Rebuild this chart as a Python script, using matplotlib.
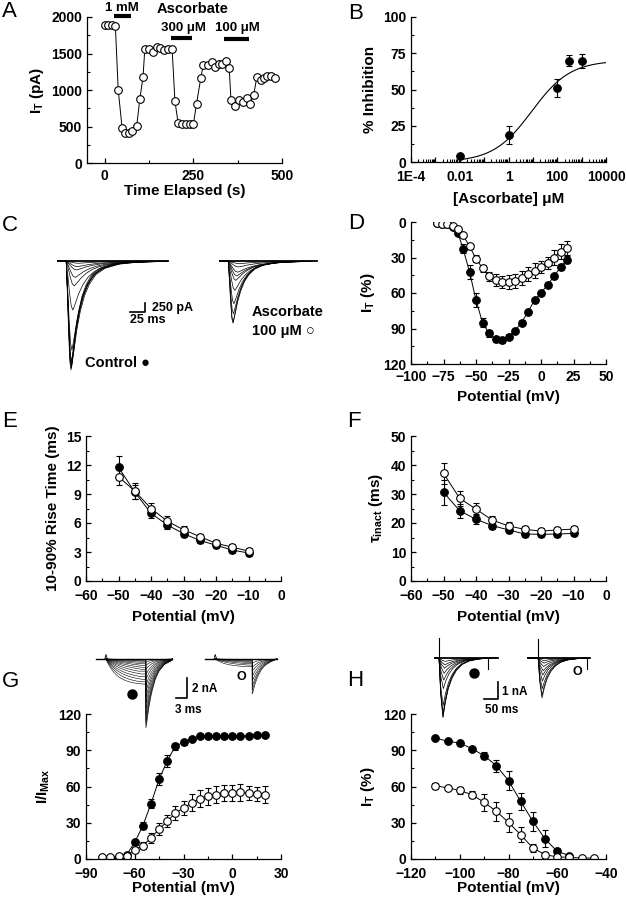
import numpy as np
import matplotlib
matplotlib.use("Agg")
import matplotlib.pyplot as plt
from matplotlib.ticker import MultipleLocator, LogLocator, NullFormatter

# ---- panel A: time course (s, pA)
a_t = [0, 10, 20, 30, 38, 49, 58, 69, 78, 90, 99, 108, 113, 125, 137, 148, 157, 167,
       179, 190, 198, 207, 219, 228, 240, 250, 259, 271, 278, 290, 302, 311, 323, 332,
       341, 351, 356, 368, 379, 390, 401, 409, 420, 429, 440, 450, 459, 469, 480]
a_i = [1890, 1890, 1890, 1880, 1004, 480, 411, 411, 434, 502, 877, 1178, 1557, 1557,
       1520, 1589, 1575, 1552, 1557, 1566, 849, 548, 530, 530, 530, 530, 813, 1164,
       1347, 1347, 1383, 1315, 1361, 1351, 1393, 1306, 868, 776, 868, 840, 890, 804,
       927, 1178, 1141, 1169, 1187, 1187, 1169]
a_bar_start = [25, 188, 335]
a_bar_end = [73, 247, 407]
a_bar_level = [2013, 1717, 1703]

# ---- panel B: dose response
b_conc = [0.01, 1, 100, 300, 1000]
b_inh = [4, 18.5, 51, 70, 69.5]
b_err = [1, 6, 6, 4, 5]
b_top, b_ic50, b_hill = 70, 9.0, 0.55

# ---- panel D: I-V
d_v = [-80, -76, -72, -68, -64, -60, -55, -50, -45, -40, -35, -30, -25, -20, -15,
       -10, -5, 0, 5, 10, 15, 20]
d_ctrl = [0.8, 1.4, 2, 4, 9, 22.5, 42, 66, 85, 94, 99, 100, 97, 92, 85, 76, 66, 60,
          53, 46, 38, 32]
d_ctrl_err = [1, 1, 1, 1.5, 2, 4, 6, 6, 4, 3, 2, 2, 2, 2, 2, 2, 2, 2, 2, 2, 2.5, 3]
d_asc = [0.8, 1.4, 2, 3.7, 5.6, 11, 20.5, 31, 39, 46, 49, 51, 51, 50, 47, 44, 41, 38,
         34.5, 30, 25, 22]
d_asc_err = [1, 1, 1, 1, 1.5, 2, 2, 3, 3, 4, 5, 5, 6, 6, 6, 6, 6, 5, 5, 6, 6, 6]

# ---- panels E, F: kinetics
ef_v = [-50, -45, -40, -35, -30, -25, -20, -15, -10]
e_ctrl = [11.76, 9.2, 7.0, 5.8, 4.9, 4.2, 3.7, 3.2, 2.9]
e_ctrl_err = [1.2, 0.7, 0.5, 0.4, 0.3, 0.3, 0.3, 0.3, 0.3]
e_asc = [10.8, 9.3, 7.5, 6.2, 5.3, 4.6, 3.9, 3.5, 3.1]
e_asc_err = [0.85, 0.8, 0.6, 0.5, 0.4, 0.3, 0.3, 0.3, 0.3]
f_ctrl = [30.6, 24.2, 21.3, 19.1, 17.6, 16.2, 16.1, 16.2, 16.4]
f_ctrl_err = [4.4, 2.5, 1.8, 1.2, 1, 1, 1, 1, 1]
f_asc = [37.1, 28.5, 24.8, 21.0, 19.0, 17.8, 17.2, 17.6, 17.9]
f_asc_err = [3.7, 2.5, 2.2, 1.5, 1.2, 1.2, 1, 1, 1]

# ---- panel G: activation
g_v = [-80, -75, -70, -65, -60, -55, -50, -45, -40, -35, -30, -25, -20, -15, -10,
       -5, 0, 5, 10, 15, 20]
g_ctrl = [0.5, 1.0, 1.5, 3.6, 13.8, 27.6, 45.8, 66, 81.4, 93.3, 96.6, 99.3, 101.5,
          101.5, 101.5, 101.5, 101.5, 101.5, 102, 102.6, 102.6]
g_ctrl_err = [0.5, 0.5, 0.5, 1, 2, 3, 4, 5, 5, 3, 2, 1.5, 1, 1, 1, 1, 1, 1, 1, 1, 1]
g_asc = [1.7, 1.7, 2.2, 2.8, 7.7, 11, 17.4, 24.8, 31.2, 38, 42.2, 46.4, 49.7, 51.9,
         53.2, 54.6, 54.6, 55.2, 54.6, 54, 53.2]
g_asc_err = [0.5, 0.5, 1, 1, 2, 3, 4, 5, 5, 6, 6, 7, 7, 7, 7, 7, 7, 7, 6, 6, 7]

# ---- panel H: steady-state inactivation
h_v_ctrl = [-110, -105, -100, -95, -90, -85, -80, -75, -70, -65, -60, -55]
h_ctrl = [100.2, 97.4, 96, 91.3, 85.5, 77.3, 64.8, 47.7, 31.2, 16.6, 6.3, 2.8]
h_ctrl_err = [1, 1, 1, 1.5, 3, 5, 8, 7, 8, 7, 3, 1.5]
h_v_asc = [-110, -105, -100, -95, -90, -85, -80, -75, -70, -65, -60, -55, -50, -45]
h_asc = [60.7, 58.8, 56.8, 53.2, 46.9, 39.5, 30.3, 20.1, 9.1, 3.6, 1.7, 1.4, 0.8, 0.8]
h_asc_err = [2.5, 2, 3, 3, 7, 8, 8, 6, 3, 2, 1, 1, 0.5, 0.5]

c_tmpl_t = [0, 2, 4, 6, 8, 11, 15, 20, 26, 33, 42, 55, 75, 100, 140, 170]      # ms
c_tmpl_f = [0, 0.3, 0.65, 0.92, 1.0, 0.86, 0.66, 0.48, 0.33, 0.22, 0.13, 0.07,
            0.03, 0.012, 0.004, 0.0]
c_ctrl_amp = [60, 150, 240, 440, 670, 1320, 2400, 2700, 2850, 2930, 2880, 2800]  # pA
c_ctrl_str = [2.6, 2.4, 2.2, 1.9, 1.7, 1.4, 1.2, 1.12, 1.06, 1.0, 1.1, 1.18]
c_asc_amp = [70, 160, 300, 400, 520, 790, 1150, 1420, 1670, 1640]
c_asc_str = [2.4, 2.2, 2.0, 1.8, 1.6, 1.4, 1.2, 1.1, 1.0, 1.06]

act_t = [0, 0.4, 0.8, 1.2, 1.6, 2.0, 2.5, 3, 3.5, 4, 5, 6, 7, 8, 10, 12, 15, 20]
act_f = [0, 0.125, 0.234, 0.33, 0.41, 0.487, 0.565, 0.632, 0.689, 0.736, 0.811,
         0.865, 0.903, 0.93, 0.964, 0.982, 0.993, 1.0]
tail_t = [0, 0.3, 0.8, 1.5, 2.5, 3.5, 5, 7]
tail_f = [1, 0.9, 0.7, 0.5, 0.3, 0.18, 0.08, 0.02]
g_ctrl_step = [0.15, 0.3, 0.45, 0.65, 0.85, 1.05, 1.25, 1.45, 1.65, 1.85, 2.05, 2.25, 2.45, 2.6]
g_ctrl_tail = [0.3, 0.6, 1.0, 1.5, 2.0, 2.6, 3.2, 3.8, 4.4, 5.0, 5.6, 6.1, 6.5, 6.9]
g_ctrl_str = [6, 5.5, 5, 4.5, 4, 3.5, 3, 2.6, 2.2, 1.9, 1.6, 1.4, 1.2, 1.0]
g_asc_step = [0.1, 0.2, 0.3, 0.4, 0.5, 0.6, 0.7, 0.8]
g_asc_tail = [0.4, 0.8, 1.2, 1.7, 2.2, 2.7, 3.1, 3.5]
g_asc_str = [5, 4.4, 3.8, 3.2, 2.6, 2.0, 1.5, 1.0]

h_tmpl_t = [0, 6, 14, 22, 32, 45, 60, 80, 105, 135, 170]
h_tmpl_f = [0, 0.6, 1.0, 0.75, 0.52, 0.34, 0.21, 0.11, 0.05, 0.02, 0.0]
h_ctrl_amp = [0.2, 0.4, 0.6, 0.9, 1.3, 1.8, 2.8, 3.3, 3.5, 3.45]
h_ctrl_str = [1.6, 1.5, 1.4, 1.3, 1.2, 1.1, 1.05, 1.0, 1.0, 1.04]
h_asc_amp = [0.15, 0.3, 0.5, 0.75, 1.0, 1.35, 1.8, 2.2, 2.35]
h_asc_str = [1.6, 1.5, 1.4, 1.3, 1.2, 1.1, 1.05, 1.0, 1.0]

plt.rcParams.update({
    "font.family": ["Liberation Sans", "DejaVu Sans"],
    "font.weight": "bold",
    "axes.labelweight": "bold",
    "font.size": 10,
    "axes.labelsize": 11,
    "mathtext.fontset": "custom",
    "mathtext.bf": "Liberation Sans:bold",
    "mathtext.rm": "Liberation Sans:bold",
    "mathtext.it": "Liberation Sans:bold",
    "mathtext.default": "bf",
    "axes.spines.top": False,
    "axes.spines.right": False,
    "axes.linewidth": 0.9,
    "xtick.direction": "in",
    "ytick.direction": "in",
    "xtick.major.size": 3.5,
    "ytick.major.size": 3.5,
    "xtick.minor.size": 2,
    "ytick.minor.size": 2,
    "xtick.major.width": 0.9,
    "ytick.major.width": 0.9,
    "xtick.minor.width": 0.8,
    "ytick.minor.width": 0.8,
    "xtick.labelsize": 10,
    "ytick.labelsize": 10,
    "xtick.major.pad": 4,
})

W, H = 626, 899
fig = plt.figure(figsize=(W / 100, H / 100), dpi=100)


def box(l, t, r, b):
    return [l / W, 1 - b / H, (r - l) / W, (b - t) / H]


def ftext(x, y, s, **kw):
    fig.text(x / W, 1 - y / H, s, **kw)


def errplot(ax, x, y, e, filled, ls="-"):
    ax.errorbar(x, y, yerr=e, fmt="o", ls=ls, color="k", mfc="k" if filled else "w",
                mec="k", ms=5.5, mew=0.8, lw=0.7, elinewidth=0.8, capsize=2,
                capthick=0.8)


def ticks(ax, xmaj, xmin, ymaj, ymin):
    ax.xaxis.set_major_locator(MultipleLocator(xmaj))
    ax.xaxis.set_minor_locator(MultipleLocator(xmin))
    ax.yaxis.set_major_locator(MultipleLocator(ymaj))
    ax.yaxis.set_minor_locator(MultipleLocator(ymin))


# panel letters
for s, x, y in [("A", 2, 1), ("B", 348, 3), ("C", 2, 215), ("D", 348, 213),
                ("E", 2, 411), ("F", 347, 411), ("G", 2, 671), ("H", 347, 670)]:
    ftext(x, y, s, fontsize=16, fontweight="normal", va="top", ha="left")

# ---- A
ax = fig.add_axes(box(87, 17, 282, 163))
ax.plot(a_t, a_i, "o-", color="k", mfc="w", ms=5.5, mew=0.8, lw=0.7)
for s0, s1, lv in zip(a_bar_start, a_bar_end, a_bar_level):
    ax.plot([s0, s1], [lv, lv], color="k", lw=3, solid_capstyle="butt", clip_on=False)
ax.set_xlim(-50, 500)
ax.set_ylim(0, 2000)
ticks(ax, 250, 125, 500, 250)
ax.set_xlabel("Time Elapsed (s)", labelpad=1)
ax.set_ylabel(r"I$_{T}$ (pA)")
ftext(122, 8, "1 mM", fontsize=9.5, ha="center", va="center")
ftext(193, 9, "Ascorbate", fontsize=10.5, ha="center", va="center")
ftext(183, 28, "300 μM", fontsize=9.5, ha="center", va="center")
ftext(237, 28, "100 μM", fontsize=9.5, ha="center", va="center")

# ---- B
ax = fig.add_axes(box(411, 17, 606, 162))
xf = np.logspace(-2, 4, 200)
ax.plot(xf, b_top / (1 + (b_ic50 / xf) ** b_hill), color="k", lw=0.8)
errplot(ax, b_conc, b_inh, b_err, True, ls="none")
ax.set_xscale("log")
ax.set_xlim(1e-4, 1e4)
ax.set_ylim(0, 100)
ax.set_xticks([1e-4, 1e-3, 1e-2, 1e-1, 1, 10, 100, 1e3, 1e4])
ax.set_xticklabels(["1E-4", "", "0.01", "", "1", "", "100", "", "10000"])
ax.xaxis.set_minor_locator(LogLocator(base=10, subs=np.arange(2, 10), numticks=20))
ax.xaxis.set_minor_formatter(NullFormatter())
ax.tick_params(axis="x", pad=5.5)
ax.yaxis.set_major_locator(MultipleLocator(25))
ax.yaxis.set_minor_locator(MultipleLocator(12.5))
ax.set_xlabel("[Ascorbate] μM", labelpad=6)
ax.set_ylabel("% Inhibition")


# ---- C traces
def simple_traces(ax, t_start, t_on, t_end, amps, strs, tt, ff, lw=0.5):
    ax.plot([t_start, t_end], [0, 0], color="k", lw=1.3)
    for a, s in zip(amps, strs):
        t = t_on + np.array(tt) * s
        y = -a * np.array(ff)
        keep = t <= t_end
        ax.plot(np.r_[t_start, t[keep]], np.r_[0, y[keep]], color="k", lw=lw)


axc = fig.add_axes(box(50, 235, 320, 380))
axc.set_xlim(0, 450)
axc.set_ylim(-3200, 700)
axc.axis("off")
simple_traces(axc, 13, 27, 197, c_ctrl_amp, c_ctrl_str, c_tmpl_t, c_tmpl_f)
simple_traces(axc, 283, 297, 445, c_asc_amp, c_asc_str, c_tmpl_t, c_tmpl_f)
axc.plot([133, 158, 158], [-1371, -1371, -1129], color="k", lw=1.2)
axc.text(170, -1250, "250 pA", fontsize=9, va="center")
axc.text(133, -1580, "25 ms", fontsize=9, va="center")
ftext(85, 363, "Control ●", fontsize=10.5, va="center")
ftext(252, 312, "Ascorbate", fontsize=10.5, va="center")
ftext(252, 331, "100 μM ○", fontsize=10.5, va="center")

# ---- D
ax = fig.add_axes(box(411, 222, 606, 364))
errplot(ax, d_v, d_ctrl, d_ctrl_err, True)
errplot(ax, d_v, d_asc, d_asc_err, False)
ax.set_xlim(-100, 50)
ax.set_ylim(120, 0)
ticks(ax, 25, 12.5, 30, 15)
ax.set_xlabel("Potential (mV)", labelpad=5)
ax.set_ylabel(r"I$_{T}$ (%)")

# ---- E
ax = fig.add_axes(box(86, 436, 281, 581))
errplot(ax, ef_v, e_ctrl, e_ctrl_err, True)
errplot(ax, ef_v, e_asc, e_asc_err, False)
ax.set_xlim(-60, 0)
ax.set_ylim(0, 15)
ticks(ax, 10, 5, 3, 1.5)
ax.tick_params(axis="x", pad=6)
ax.set_xlabel("Potential (mV)", labelpad=5)
ax.set_ylabel("10-90% Rise Time (ms)")

# ---- F
ax = fig.add_axes(box(411, 436, 606, 581))
errplot(ax, ef_v, f_ctrl, f_ctrl_err, True)
errplot(ax, ef_v, f_asc, f_asc_err, False)
ax.set_xlim(-60, 0)
ax.set_ylim(0, 50)
ticks(ax, 10, 5, 10, 5)
ax.tick_params(axis="x", pad=6)
ax.set_xlabel("Potential (mV)", labelpad=5)
ax.set_ylabel(r"$\tau_{inact}$ (ms)")

# ---- G
ax = fig.add_axes(box(86, 714, 281, 859))
errplot(ax, g_v, g_ctrl, g_ctrl_err, True)
errplot(ax, g_v, g_asc, g_asc_err, False)
ax.set_xlim(-90, 30)
ax.set_ylim(0, 120)
ticks(ax, 30, 15, 30, 15)
ax.tick_params(axis="x", pad=6)
ax.set_xlabel("Potential (mV)", labelpad=0)
ax.set_ylabel(r"I/I$_{Max}$")


def act_traces(ax, t_start, t_on, t_off, t_end, steps, tails, strs):
    ax.plot([t_start, t_end], [0, 0], color="k", lw=1.0)
    ax.plot([t_on - 0.3, t_on, t_on + 0.4], [0, 0.45, 0], color="k", lw=0.6)
    for a, b, s in zip(steps, tails, strs):
        t = t_on + np.array(act_t) * s
        y = -a * np.array(act_f)
        keep = t < t_off
        t1, y1 = t[keep], y[keep]
        t2 = t_off + np.array(tail_t)
        y2 = -b * np.array(tail_f)
        keep2 = t2 <= t_end
        ax.plot(np.r_[t1, t_off, t2[keep2], t_end], np.r_[y1, y1[-1], y2[keep2], 0],
                color="k", lw=0.4)


axg = fig.add_axes(box(90, 645, 290, 735))
axg.set_xlim(0, 54)
axg.set_ylim(-7.6, 1.4)
axg.axis("off")
act_traces(axg, 1.6, 4.3, 15.1, 22.2, g_ctrl_step, g_ctrl_tail, g_ctrl_str)
act_traces(axg, 31.1, 33.8, 43.8, 50.5, g_asc_step, g_asc_tail, g_asc_str)
axg.plot([23.2, 26.2, 26.2], [-3.9, -3.9, -1.9], color="k", lw=1.2)
axg.text(27.5, -3.0, "2 nA", fontsize=8.5, va="center")
axg.text(23.0, -5.1, "3 ms", fontsize=8.5, va="center")
axg.plot([11.4], [-3.5], "o", color="k", ms=6.5)
axg.text(40.8, -1.8, "O", fontsize=9, ha="center", va="center")

# ---- H
ax = fig.add_axes(box(411, 714, 606, 859))
errplot(ax, h_v_ctrl, h_ctrl, h_ctrl_err, True)
errplot(ax, h_v_asc, h_asc, h_asc_err, False)
ax.set_xlim(-120, -40)
ax.set_ylim(0, 120)
ticks(ax, 20, 10, 30, 15)
ax.tick_params(axis="x", pad=6)
ax.set_xlabel("Potential (mV)", labelpad=0)
ax.set_ylabel(r"I$_{T}$ (%)")

axh = fig.add_axes(box(425, 632, 600, 725))
axh.set_xlim(0, 625)
axh.set_ylim(-3.94, 1.53)
axh.axis("off")
simple_traces(axh, 36, 50, 261, h_ctrl_amp, h_ctrl_str, h_tmpl_t, h_tmpl_f, lw=0.5)
axh.plot([50, 50], [1.18, 0], color="k", lw=0.8)
axh.plot([225, 225], [0, -0.65], color="k", lw=0.8)
simple_traces(axh, 368, 404, 589, h_asc_amp, h_asc_str, h_tmpl_t, h_tmpl_f, lw=0.5)
axh.plot([404, 404], [1.12, 0], color="k", lw=0.8)
axh.plot([579, 579], [0, -0.65], color="k", lw=0.8)
axh.plot([211, 261, 261], [-2.41, -2.41, -1.41], color="k", lw=1.2)
axh.text(275, -2.0, "1 nA", fontsize=8.5, va="center")
axh.text(214, -3.06, "50 ms", fontsize=8.5, va="center")
axh.plot([175], [-0.88], "o", color="k", ms=6.5)
axh.text(543, -0.82, "O", fontsize=9, ha="center", va="center")

fig.savefig("out.png", dpi=100)
